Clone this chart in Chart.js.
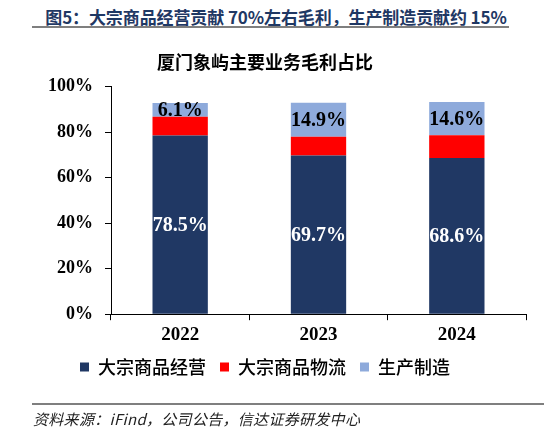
<!DOCTYPE html>
<html>
<head>
<meta charset="utf-8">
<script src="https://cdn.jsdelivr.net/npm/chart.js@4"></script>
<style>
  body { margin: 0; width: 544px; height: 430px; background: #fff; position: relative; overflow: hidden; }
  #head { position: absolute; left: 40px; top: 4px; width: 472px; text-align: center; font: bold 17px "Noto Sans CJK SC", sans-serif; color: #1f3864; white-space: nowrap; letter-spacing: -0.1px; }
  #headLine { position: absolute; left: 32px; top: 26px; width: 477px; height: 2px; background: #7f7f7f; }
  #footLine { position: absolute; left: 32px; top: 403px; width: 512px; height: 2px; background: #7f7f7f; }
  #foot { position: absolute; left: 33px; top: 408px; font: italic 15px "Noto Sans CJK SC", sans-serif; color: #222; white-space: nowrap; letter-spacing: 0.3px; }
  #wrap { position: absolute; left: 0; top: 0; width: 544px; height: 430px; }
</style>
</head>
<body>
<div id="head">图5：大宗商品经营贡献 70%左右毛利，生产制造贡献约 15%</div>
<div id="headLine"></div>
<div id="wrap"><canvas id="myChart" width="544" height="430"></canvas></div>
<div id="footLine"></div>
<div id="foot">资料来源：iFind，公司公告，信达证券研发中心</div>
<script>
//data
const years = ["2022", "2023", "2024"];
const trading = [78.5, 69.7, 68.6];
const logistics = [8.2, 8.3, 10.0];
const manufacturing = [6.1, 14.9, 14.6];
const yTicks = [0, 20, 40, 60, 80, 100];

const serif = "'Liberation Serif', 'Times New Roman', serif";
const cjk = "'Noto Sans CJK SC', sans-serif";

// labels inside the navy and light blue parts
const barLabels = {
  id: "barLabels",
  afterDatasetsDraw(chart) {
    const ctx = chart.ctx;
    ctx.save();
    ctx.font = "bold 20px " + serif;
    ctx.textAlign = "center";
    ctx.textBaseline = "middle";
    [0, 2].forEach((di) => {
      const ds = chart.data.datasets[di];
      chart.getDatasetMeta(di).data.forEach((bar, i) => {
        ctx.fillStyle = di === 0 ? "#ffffff" : "#000000";
        ctx.fillText(ds.data[i].toFixed(1) + "%", bar.x, (bar.y + bar.base) / 2 + 1);
      });
    });
    ctx.restore();
  },
};

const data = {
  labels: years,
  datasets: [
    { label: "大宗商品经营", data: trading, backgroundColor: "#203864" },
    { label: "大宗商品物流", data: logistics, backgroundColor: "#ff0000" },
    { label: "生产制造", data: manufacturing, backgroundColor: "#8eaadb" },
  ],
};

const config = {
  type: "bar",
  data: data,
  options: {
    responsive: false,
    animation: false,
    barPercentage: 0.4,
    categoryPercentage: 1,
    layout: { padding: { left: 4, right: 18, top: 40, bottom: 44 } },
    plugins: {
      title: {
        display: true,
        text: "厦门象屿主要业务毛利占比",
        color: "#000",
        font: { family: cjk, size: 18, weight: "bold" },
        padding: { top: 11, bottom: 14 },
      },
      legend: {
        position: "bottom",
        labels: {
          boxWidth: 9,
          boxHeight: 9,
          padding: 14,
          color: "#000",
          font: { family: cjk, size: 18, weight: "500" },
        },
      },
      tooltip: { enabled: false },
    },
    scales: {
      x: {
        stacked: true,
        afterFit: (s) => { s.height = s.height - 5; },
        grid: { drawOnChartArea: false, drawTicks: true, tickLength: 6, color: "#000" },
        border: { color: "#000" },
        ticks: { color: "#000", padding: 3, font: { family: serif, size: 19, weight: "bold" } },
      },
      y: {
        stacked: true,
        min: 0,
        max: 100,
        afterBuildTicks: (s) => { s.ticks = yTicks.map((v) => ({ value: v })); },
        afterFit: (s) => { s.width = 107; },
        grid: { drawOnChartArea: false, drawTicks: true, tickLength: 6, color: "#000" },
        border: { color: "#000" },
        ticks: {
          color: "#000",
          padding: 12,
          font: { family: serif, size: 18, weight: "bold" },
          callback: (v) => v + "%",
        },
      },
    },
  },
  plugins: [barLabels],
};

const myChart = new Chart(document.getElementById("myChart"), config);
</script>
</body>
</html>
